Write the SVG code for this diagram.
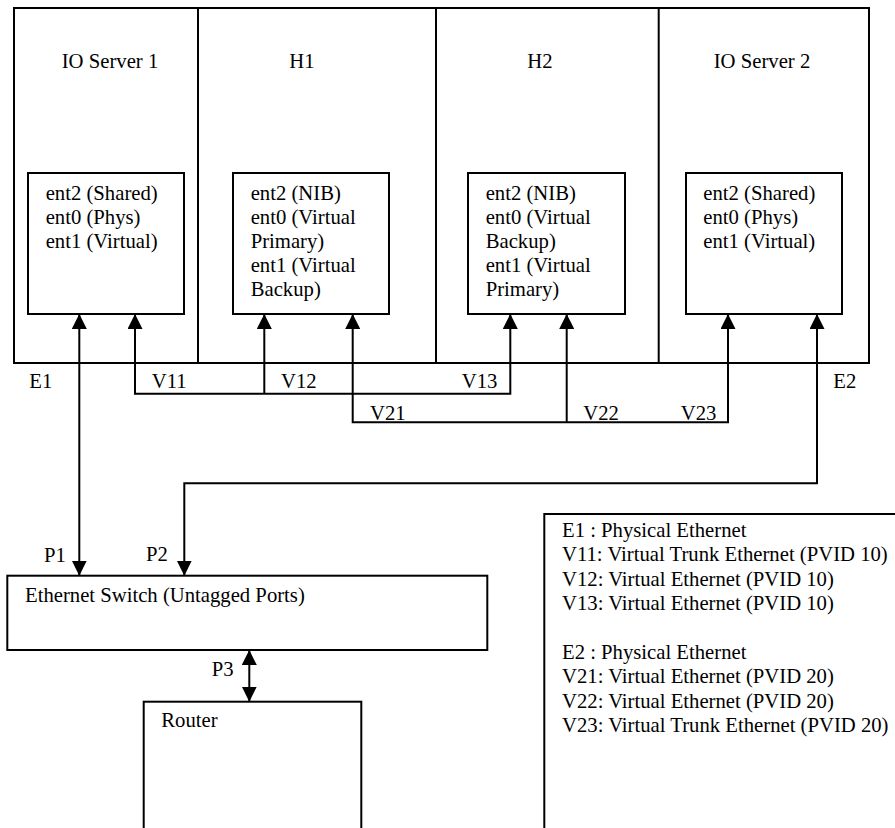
<svg xmlns="http://www.w3.org/2000/svg" width="895" height="828" viewBox="0 0 895 828" font-family="'Liberation Serif', 'DejaVu Serif', serif" font-size="20.7">
<defs>
<style>
text{font-family:'Liberation Serif','DejaVu Serif',serif;font-size:20.7px;fill:#000}
.box{fill:none;stroke:#000;stroke-width:2}
.c{fill:none;stroke:#000;stroke-width:2}
.ttl{text-anchor:middle}
</style>
<marker id="ah" viewBox="0 0 15 15" refX="15" refY="7.5" markerWidth="15" markerHeight="15" markerUnits="userSpaceOnUse" orient="auto-start-reverse">
<path d="M0,0 L15,7.5 L0,15 z" fill="#000"/>
</marker>
</defs>
<rect width="895" height="828" fill="#fff"/>
<g id="frame">
<rect class="box" x="14" y="8" width="855" height="355"/>
<line class="c" x1="198" y1="8" x2="198" y2="363"/>
<line class="c" x1="436" y1="8" x2="436" y2="363"/>
<line class="c" x1="658.7" y1="8" x2="658.7" y2="363"/>
</g>
<g id="ioserver1">
<text class="ttl" x="110" y="68">IO Server 1</text>
<rect class="box" x="28" y="173" width="156" height="141"/>
<text x="45.7" y="200">ent2 (Shared)</text>
<text x="45.7" y="224">ent0 (Phys)</text>
<text x="45.7" y="248">ent1 (Virtual)</text>
</g>
<g id="h1">
<text class="ttl" x="302" y="68">H1</text>
<rect class="box" x="233" y="173" width="156" height="141"/>
<text x="250.7" y="200">ent2 (NIB)</text>
<text x="250.7" y="224">ent0 (Virtual</text>
<text x="250.7" y="248">Primary)</text>
<text x="250.7" y="272">ent1 (Virtual</text>
<text x="250.7" y="296">Backup)</text>
</g>
<g id="h2">
<text class="ttl" x="540" y="68">H2</text>
<rect class="box" x="468" y="173" width="157" height="141"/>
<text x="485.7" y="200">ent2 (NIB)</text>
<text x="485.7" y="224">ent0 (Virtual</text>
<text x="485.7" y="248">Backup)</text>
<text x="485.7" y="272">ent1 (Virtual</text>
<text x="485.7" y="296">Primary)</text>
</g>
<g id="ioserver2">
<text class="ttl" x="762" y="68">IO Server 2</text>
<rect class="box" x="686" y="173" width="156" height="141"/>
<text x="703.3" y="200">ent2 (Shared)</text>
<text x="703.3" y="224">ent0 (Phys)</text>
<text x="703.3" y="248">ent1 (Virtual)</text>
</g>
<g id="switch">
<rect class="box" x="7.3" y="575.7" width="480" height="74.3"/>
<text x="25" y="602">Ethernet Switch (Untagged Ports)</text>
</g>
<g id="router">
<rect class="box" x="143.7" y="701.7" width="217.6" height="140"/>
<text x="161.3" y="727">Router</text>
</g>
<g id="legend">
<rect class="box" x="544.3" y="514" width="400" height="340"/>
<text x="562" y="537">E1 : Physical Ethernet</text>
<text x="562" y="561.4">V11: Virtual Trunk Ethernet (PVID 10)</text>
<text x="562" y="585.8">V12: Virtual Ethernet (PVID 10)</text>
<text x="562" y="610.2">V13: Virtual Ethernet (PVID 10)</text>
<text x="562" y="659">E2 : Physical Ethernet</text>
<text x="562" y="683.4">V21: Virtual Ethernet (PVID 20)</text>
<text x="562" y="707.8">V22: Virtual Ethernet (PVID 20)</text>
<text x="562" y="732.2">V23: Virtual Trunk Ethernet (PVID 20)</text>
</g>
<g id="connectors">
<path class="c" d="M79.3,314 V575.7" marker-start="url(#ah)" marker-end="url(#ah)"/>
<path class="c" d="M135,314 V393.7 H510.3 V314" marker-start="url(#ah)" marker-end="url(#ah)"/>
<path class="c" d="M264.3,393.7 V314" marker-end="url(#ah)"/>
<path class="c" d="M352.7,314 V422.3 H728 V314" marker-start="url(#ah)" marker-end="url(#ah)"/>
<path class="c" d="M566.7,422.3 V314" marker-end="url(#ah)"/>
<path class="c" d="M817,314 V483.3 H184.3 V575.7" marker-start="url(#ah)" marker-end="url(#ah)"/>
<path class="c" d="M249.3,650 V701.7" marker-start="url(#ah)" marker-end="url(#ah)"/>
</g>
<g id="labels">
<text x="29.3" y="388.3">E1</text>
<text x="151.7" y="388.3">V11</text>
<text x="281" y="388.3">V12</text>
<text x="461.7" y="388.3">V13</text>
<text x="833.3" y="388.3">E2</text>
<text x="370" y="420">V21</text>
<text x="583.3" y="420">V22</text>
<text x="680.7" y="420">V23</text>
<text x="44" y="561.7">P1</text>
<text x="146" y="561">P2</text>
<text x="211.7" y="675.7">P3</text>
</g>
</svg>
